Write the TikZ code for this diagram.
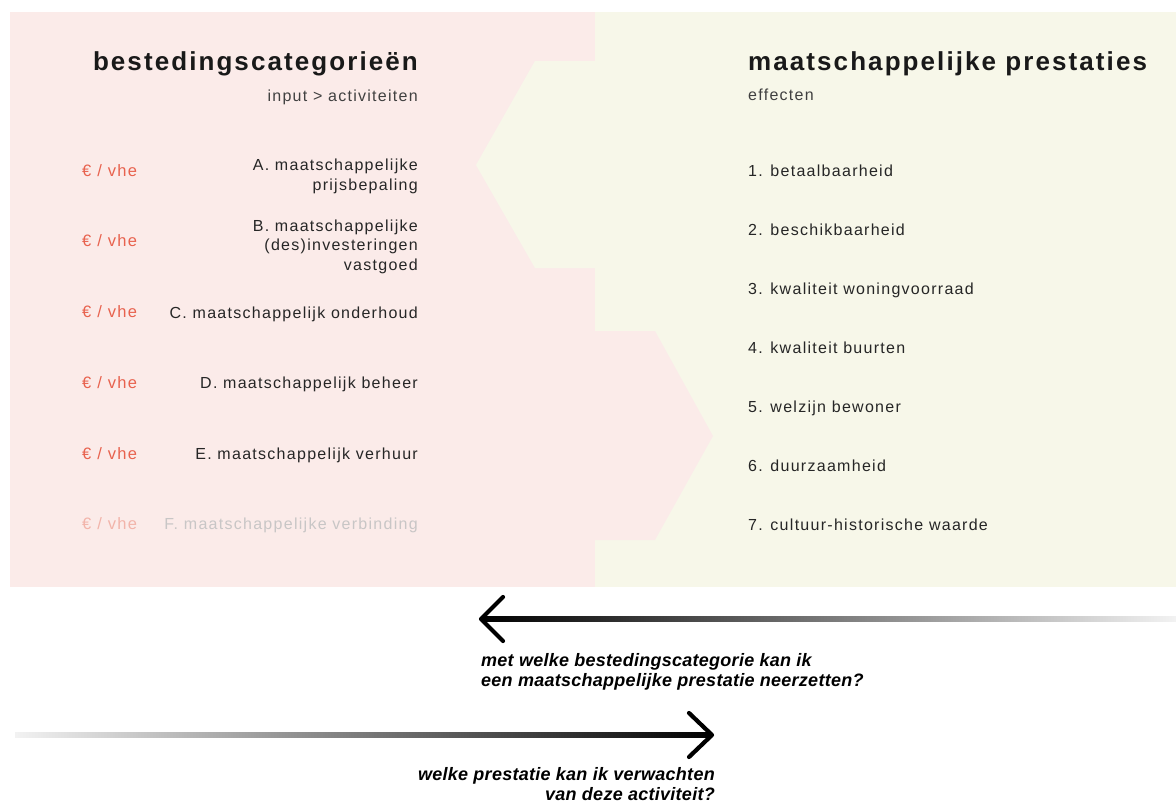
\documentclass[tikz,border=0pt]{standalone}
\usepackage{fontspec}
\setmainfont{Liberation Sans}[LetterSpace=8]
\newfontfamily\vraagfont{Liberation Sans}[LetterSpace=1.5]
\usepackage{tikz}
\usetikzlibrary{positioning}
\definecolor{roze}{RGB}{251,235,233}
\definecolor{groen}{RGB}{247,247,233}
\definecolor{eurorood}{RGB}{232,98,78}
\definecolor{vaagrood}{RGB}{242,180,170}
\definecolor{vaaggrijs}{RGB}{200,198,198}

\begin{document}
\begin{tikzpicture}[x=1pt,y=1pt,yscale=-1,
        every node/.style={inner sep=0pt},
        kop/.style={font=\fontsize{26}{30}\selectfont\bfseries, text=black!90},
        sub/.style={font=\fontsize{16}{18}\selectfont, text=black!75},
        item/.style={font=\fontsize{16}{19.5}\selectfont, text=black!85, align=right, anchor=base east},
        effect/.style={font=\fontsize{16}{19.5}\selectfont, text=black!85, anchor=base west},
        euro/.style={font=\fontsize{16.5}{19.5}\selectfont, text=eurorood, anchor=base west},
        vraag/.style={font=\vraagfont\fontsize{18}{20}\selectfont\bfseries\itshape, text=black},
        pijlkop/.style={line width=4.2pt, line cap=round, line join=round}]
        \useasboundingbox (0,0) rectangle (1176,803);

        %Shape: Rectangle [bestedingen]
        \fill[roze] (10,12) rectangle (595,587);
        %Shape: Rectangle [prestaties]
        \fill[groen] (595,12) rectangle (1176,587);
        %Shape: Polygon [inkeping links]
        \fill[groen] (595,61) -- (535,61) -- (476,165) -- (535,268) -- (595,268) -- cycle;
        %Shape: Polygon [punt rechts]
        \fill[roze] (595,331) -- (655,331) -- (713,436) -- (655,540) -- (595,540) -- cycle;

        %Text: koppen
        \node[kop, anchor=base east] (kopL) at (418,70) {bestedingscategorieën};
        \node[sub, anchor=base east] (subL) at (418,101) {input > activiteiten};
        \node[kop, anchor=base west] (kopR) at (748,70) {maatschappelijke prestaties};
        \node[sub, anchor=base west] (subR) at (748,100) {effecten};

        %Text: bestedingscategorieen (base = laatste regel)
        \node[item] (catA) at (418,190) {A. maatschappelijke\\prijsbepaling};
        \node[item] (catB) at (418,270) {B. maatschappelijke\\(des)investeringen\\vastgoed};
        \node[item] (catC) at (418,318) {C. maatschappelijk onderhoud};
        \node[item] (catD) at (418,388) {D. maatschappelijk beheer};
        \node[item] (catE) at (418,459) {E. maatschappelijk verhuur};
        \node[item, text=vaaggrijs] (catF) at (418,529) {F. maatschappelijke verbinding};

        %Text: euro per vhe
        \node[euro] (euroA) at (82,176) {€ / vhe};
        \node[euro] (euroB) at (82,246) {€ / vhe};
        \node[euro] (euroC) at (82,317) {€ / vhe};
        \node[euro] (euroD) at (82,388) {€ / vhe};
        \node[euro] (euroE) at (82,459) {€ / vhe};
        \node[euro, text=vaagrood] (euroF) at (82,529) {€ / vhe};

        %Text: effecten
        \node[effect] (eff1) at (748,176) {1. betaalbaarheid};
        \node[effect] (eff2) at (748,235) {2. beschikbaarheid};
        \node[effect] (eff3) at (748,294) {3. kwaliteit woningvoorraad};
        \node[effect] (eff4) at (748,353) {4. kwaliteit buurten};
        \node[effect] (eff5) at (748,412) {5. welzijn bewoner};
        \node[effect] (eff6) at (748,471) {6. duurzaamheid};
        \node[effect] (eff7) at (748,530) {7. cultuur-historische waarde};

        %Arrow: terug naar bestedingen
        \coordinate (terugStart) at (1176,619);
        \coordinate (terugTip) at (481,619);
        \shade[left color=black, middle color=black!85, right color=black!5] ([yshift=-2.5]terugTip) rectangle ([yshift=2.5]terugStart);
        \draw[pijlkop] (503,597) -- (terugTip) -- (503,641);
        \node[vraag, anchor=base west, align=left] (vraagTerug) at (481,686) {met welke bestedingscategorie kan ik\\een maatschappelijke prestatie neerzetten?};

        %Arrow: vooruit naar prestaties
        \coordinate (vooruitStart) at (15,735);
        \coordinate (vooruitTip) at (712,735);
        \shade[left color=black!5, middle color=black!85, right color=black] ([yshift=-2.5]vooruitStart) rectangle ([yshift=2.5]vooruitTip);
        \draw[pijlkop] (689,713) -- (vooruitTip) -- (689,757);
        \node[vraag, anchor=base east, align=right] (vraagVooruit) at (715,800) {welke prestatie kan ik verwachten\\van deze activiteit?};
\end{tikzpicture}
\end{document}
